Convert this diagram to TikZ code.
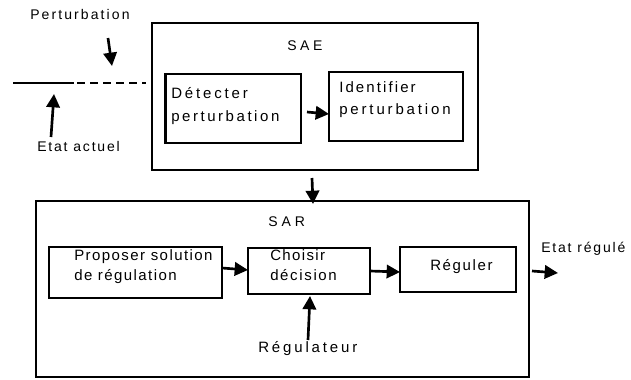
\documentclass[tikz,border=0pt]{standalone}
\usepackage{fontspec}
\setmainfont{Liberation Sans}
\usetikzlibrary{arrows.meta,calc}
\tikzset{
  box/.style={draw,line width=2.2pt,inner sep=0pt,outer sep=0pt},
  txt/.style={anchor=base west,inner sep=0pt,font=\fontsize{11.25pt}{13pt}\selectfont\addfontfeatures{LetterSpace=#1}},
  otxt/.style={anchor=base west,inner sep=0pt,font=\fontsize{10.5pt}{12pt}\selectfont\addfontfeatures{LetterSpace=#1}},
  arr/.style={line width=2pt,-{Triangle[length=10pt,width=10pt]}},
  wire/.style={line width=2.2pt},
}
\begin{document}
\begin{tikzpicture}[x=0.75pt,y=-0.75pt]
\useasboundingbox (0,0) rectangle (631,379);
% boxes
\node[box,minimum width=244.5pt,minimum height=110.25pt] (sae) at (315,96.5) {};
\node[box,minimum width=101.6pt,minimum height=51.75pt] (det) at (233.25,108.5) {};
\node[box,minimum width=100.5pt,minimum height=51.75pt] (idf) at (396,106.5) {};
\node[box,minimum width=369.75pt,minimum height=132pt] (sar) at (282.5,289) {};
\node[box,minimum width=129.75pt,minimum height=38.25pt] (prop) at (135.5,272.5) {};
\node[box,minimum width=91.5pt,minimum height=34.5pt] (cho) at (309,271) {};
\node[box,minimum width=87pt,minimum height=33.75pt] (reg) at (458,269.5) {};
% texts
\node[otxt=26] (saet) at (287,50) {SAE};
\node[txt=19] (det1) at (171,98.5) {Détecter};
\node[txt=17] (det2) at (171,121.5) {perturbation};
\node[txt=14] (idf1) at (339,92) {Identifier};
\node[txt=19] (idf2) at (339,114) {perturbation};
\node[otxt=15] (pert) at (30,19) {Perturbation};
\node[otxt=13] (etat) at (37,151.5) {Etat actuel};
\node[otxt=28] (sart) at (268,226.5) {SAR};
\node[txt=9.6] (prop1) at (74,260.5) {Proposer solution};
\node[txt=9.5] (prop2) at (74,280.5) {de régulation};
\node[txt=9] (cho1) at (270,260.5) {Choisir};
\node[txt=11] (cho2) at (270,280.5) {décision};
\node[txt=11] (regt) at (430,270) {Réguler};
\node[txt=19] (regu) at (258,352.5) {Régulateur};
\node[otxt=13] (out) at (541,252) {Etat régulé};
% free ends
\coordinate (l1) at (13,83);
\coordinate (l2) at (74,83);
\coordinate (d1) at (77,83);
\coordinate (d2) at (146,83);
\coordinate (p1) at (108,38);
\coordinate (p2) at (112,66);
\coordinate (e1) at (51,137);
\coordinate (e2) at (54,94);
\coordinate (r1) at (308,340);
\coordinate (o2) at (558,273);
% lines
\draw[wire] (l1) -- (l2);
\draw[wire,dash pattern=on 6pt off 3.75pt] (d1) -- (d2);
% arrows
\draw[arr] (p1) -- (p2);
\draw[arr] (e1) -- (e2);
\draw[arr] ($(det.east)+(6,3.5)$) -- ($(idf.west)+(0,7.5)$);
\draw[arr] ($(sae.south)+(-3,8)$) -- ($(sar.north)+(30.5,3)$);
\draw[arr] ($(prop.east)+(0,-4.5)$) -- ($(cho.west)+(0,-1)$);
\draw[arr] (cho.east) -- ($(reg.west)+(0,2.5)$);
\draw[arr] (r1) -- ($(cho.south)+(1,2)$);
\draw[arr] ($(sar.east)+(3,-18)$) -- (o2);
\end{tikzpicture}
\end{document}
